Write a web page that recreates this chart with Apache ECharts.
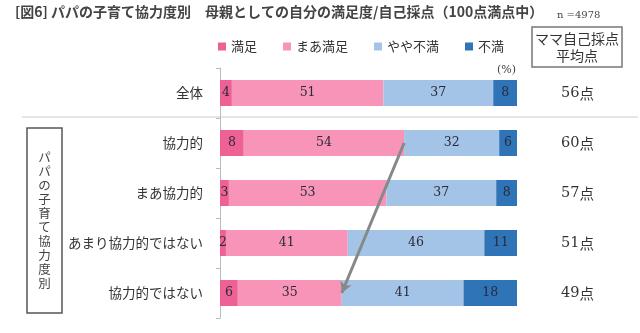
<!DOCTYPE html>
<html>
<head>
<meta charset="utf-8">
<script src="https://cdn.jsdelivr.net/npm/echarts@6/dist/echarts.min.js"></script>
<style>
  html, body { margin: 0; padding: 0; background: #fff; }
  #chart { width: 640px; height: 333px; }
</style>
</head>
<body>
<div id="chart"></div>
<script>
// Rows of the stacked bars, top to bottom
const categories = ['全体', '協力的', 'まあ協力的', 'あまり協力的ではない', '協力的ではない'];

// Share of mothers (%) for each satisfaction level
const manzoku    = [4, 8, 3, 2, 6];      // 満足
const maaManzoku = [51, 54, 53, 41, 35]; // まあ満足
const yayaFuman  = [37, 32, 37, 46, 41]; // やや不満
const fuman      = [8, 6, 8, 11, 18];    // 不満

// Mothers' average self-score (out of 100)
const scores = [56, 60, 57, 51, 49];

const seriesNames = ['満足', 'まあ満足', 'やや不満', '不満'];
const seriesColors = ['#EE6194', '#F894B8', '#A3C4E7', '#2F74B6'];
const seriesData = [manzoku, maaManzoku, yayaFuman, fuman];

const SANS = '"Noto Sans CJK JP", "Noto Sans", sans-serif';
const SERIF = '"DejaVu Serif", "Liberation Serif", serif';

const chart = echarts.init(document.getElementById('chart'), null, { renderer: 'canvas' });

const barSeries = seriesNames.map((name, i) => ({
  name: name,
  type: 'bar',
  stack: 'total',
  barWidth: 26,
  clip: true,
  data: seriesData[i],
  itemStyle: { color: seriesColors[i] },
  label: {
    show: true,
    position: 'inside',
    color: '#2a2a3a',
    fontFamily: SERIF,
    fontSize: 12.5
  },
  emphasis: { disabled: true }
}));

// Arrow from the 協力的 まあ満足 edge down to the 協力的ではない まあ満足 edge
const topRow = 1, bottomRow = 4;
const edgeTop = manzoku[topRow] + maaManzoku[topRow];
const edgeBottom = manzoku[bottomRow] + maaManzoku[bottomRow];
barSeries[3].markLine = {
  silent: true,
  symbol: ['none', 'arrow'],
  symbolSize: [9, 11],
  label: { show: false },
  lineStyle: { color: '#888', width: 3, type: 'solid' },
  data: [[
    { coord: [edgeTop, categories[topRow]] },
    { coord: [edgeBottom, categories[bottomRow]] }
  ]]
};

const option = {
  animation: false,
  backgroundColor: '#fff',
  grid: { left: 220, right: 123, top: 68, height: 250 },
  legend: {
    data: seriesNames,
    left: 213,
    top: 35,
    icon: 'rect',
    itemWidth: 8,
    itemHeight: 8,
    itemGap: 26,
    textStyle: { fontFamily: SANS, fontSize: 13, color: '#333' },
    selectedMode: false
  },
  xAxis: {
    type: 'value',
    min: 0,
    max: 100,
    show: false
  },
  yAxis: [
    {
      type: 'category',
      data: categories,
      inverse: true,
      axisLine: { show: true, lineStyle: { color: '#bbb', width: 1 } },
      axisTick: { show: true, length: 4, lineStyle: { color: '#bbb' } },
      axisLabel: { margin: 17, fontFamily: SANS, fontSize: 13.5, color: '#333' }
    },
    {
      type: 'category',
      data: scores,
      inverse: true,
      position: 'right',
      axisLine: { show: false },
      axisTick: { show: false },
      axisLabel: {
        margin: 44,
        align: 'left',
        formatter: v => '{n|' + v + '}{u|点}',
        rich: {
          n: { fontFamily: SERIF, fontSize: 14.5, color: '#333' },
          u: { fontFamily: SANS, fontSize: 14.5, color: '#333' }
        }
      }
    }
  ],
  series: barSeries,
  graphic: [
    {
      type: 'text', left: 15, top: 5,
      style: {
        text: '[図6] パパの子育て協力度別　母親としての自分の満足度/自己採点（100点満点中）',
        font: 'bold 14px ' + SANS, fill: '#444'
      }
    },
    {
      type: 'text', left: 557, top: 10,
      style: { text: 'n =4978', font: '10px ' + SERIF, fill: '#444' }
    },
    {
      type: 'text', left: 497, top: 65,
      style: { text: '(%)', font: '11px ' + SERIF, fill: '#444' }
    },
    // header box over the score column
    {
      type: 'rect', shape: { x: 532, y: 27, width: 90, height: 40 },
      style: { fill: 'none', stroke: '#777', lineWidth: 1.5 }
    },
    {
      type: 'text', x: 577, y: 47,
      style: {
        text: 'ママ自己採点\n平均点', font: '14px ' + SANS, fill: '#333',
        align: 'center', verticalAlign: 'middle', lineHeight: 17
      }
    },
    // separator between the overall row and the breakdown rows
    {
      type: 'line', shape: { x1: 22, y1: 117, x2: 638, y2: 117 },
      style: { stroke: '#ddd', lineWidth: 1.5 }, z: -1
    },
    // vertical group label
    {
      type: 'rect', shape: { x: 27, y: 128, width: 35, height: 185 },
      style: { fill: 'none', stroke: '#555', lineWidth: 1.5 }
    },
    {
      type: 'text', x: 44.5, y: 220.5,
      style: {
        text: 'パパの子育て協力度別'.split('').join('\n'),
        font: '12.5px ' + SANS, fill: '#444',
        align: 'center', verticalAlign: 'middle', lineHeight: 14
      }
    }
  ]
};

chart.setOption(option);
</script>
</body>
</html>
